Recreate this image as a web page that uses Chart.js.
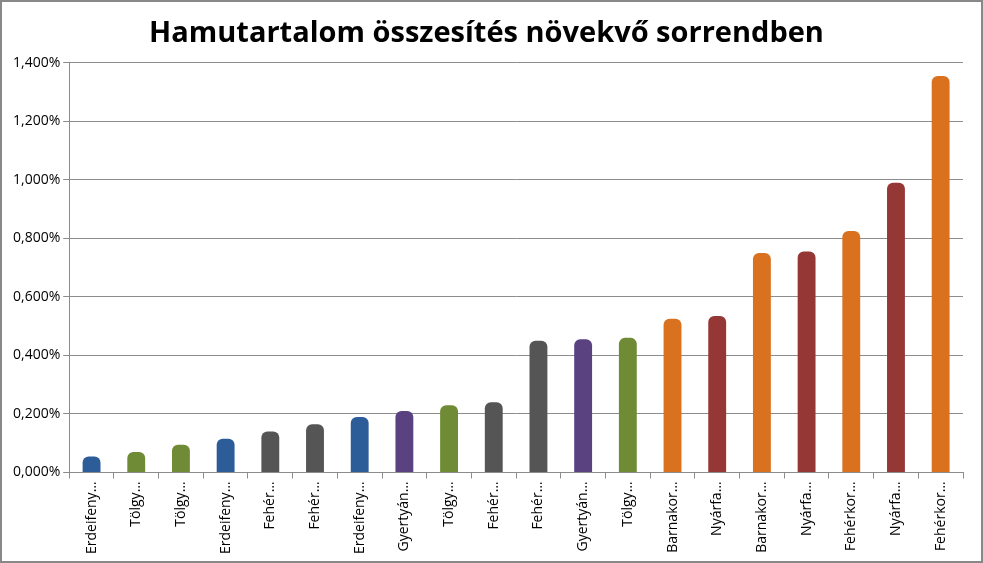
<!DOCTYPE html>
<html><head><meta charset="utf-8">
<script src="https://cdn.jsdelivr.net/npm/chart.js@4/dist/chart.umd.min.js"></script>
<style>html,body{margin:0;padding:0;background:#fff}#w{width:979px;height:559px;border:2px solid #888;position:relative}</style>
</head><body><div id="w"><canvas id="c" width="979" height="559"></canvas></div>
<script>
const categories=["Erdeifeny…","Tölgy…","Tölgy…","Erdeifeny…","Fehér…","Fehér…","Erdeifeny…","Gyertyán…","Tölgy…","Fehér…","Fehér…","Gyertyán…","Tölgy…","Barnakor…","Nyárfa…","Barnakor…","Nyárfa…","Fehérkor…","Nyárfa…","Fehérkor…"];
const values=[0.055,0.07,0.095,0.115,0.14,0.165,0.19,0.21,0.23,0.24,0.45,0.455,0.46,0.525,0.535,0.75,0.755,0.825,0.99,1.355];
const groups=["b","g","g","b","k","k","b","p","g","k","k","p","g","o","r","o","r","o","r","o"];
const palette={b:["#2c5d98","#7ba7e0"],g:["#6f8b35","#c4dd8a"],k:["#555555","#a8a8a8"],p:["#5a4280","#a48cc6"],o:["#d9711f","#fbb77a"],r:["#953735","#e07a77"]};
const ticks=[0,0.2,0.4,0.6,0.8,1.0,1.2,1.4];
new Chart(document.getElementById('c'),{type:'bar',
data:{labels:categories,datasets:[{data:values,barPercentage:0.4,categoryPercentage:1,
backgroundColor:ctx=>{const el=ctx.element;const p=palette[groups[ctx.dataIndex]];if(!el||!el.width)return p[0];
const g=ctx.chart.ctx.createLinearGradient(el.x-el.width/2,0,el.x+el.width/2,0);g.addColorStop(0,p[0]);g.addColorStop(0.45,p[1]);g.addColorStop(1,p[0]);return g;},
borderRadius:{topLeft:6,topRight:6}}]},
options:{responsive:false,animation:false,devicePixelRatio:1,
layout:{padding:{left:8,right:18,top:8,bottom:4}},
plugins:{legend:{display:false},tooltip:{enabled:false},
title:{display:true,text:'Hamutartalom összesítés növekvő sorrendben',font:{family:'Open Sans',size:29,weight:'bold'},color:'#000',padding:{top:6,bottom:12}}},
scales:{y:{min:0,max:1.4,afterBuildTicks:a=>{a.ticks=ticks.map(v=>({value:v}))},
ticks:{font:{family:'Open Sans',size:14},color:'#000',callback:v=>v.toFixed(3).replace('.',',')+'%'},
grid:{color:'#8c8c8c',drawTicks:true,tickLength:6},border:{color:'#8c8c8c'}},
x:{ticks:{font:{family:'Open Sans',size:14},color:'#000',maxRotation:90,minRotation:90,autoSkip:false},grid:{display:true,color:'#8c8c8c',drawOnChartArea:false,tickLength:6,offset:true},border:{color:'#8c8c8c'}}}}});
</script></body></html>
